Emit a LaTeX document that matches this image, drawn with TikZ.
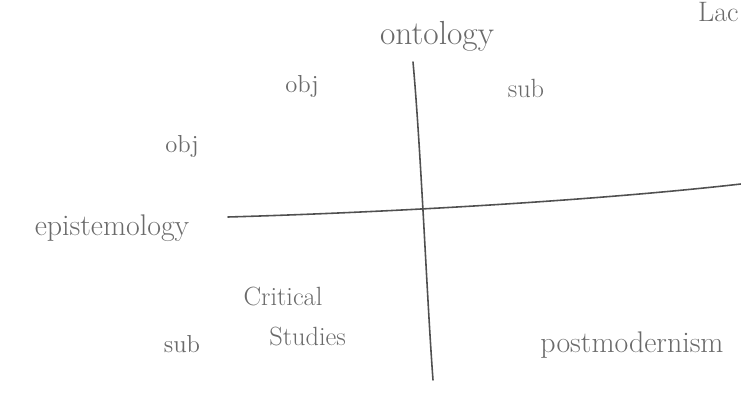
\documentclass[tikz,border=0pt]{standalone}
\usepackage{tikz}
\usetikzlibrary{positioning}
\definecolor{pencil}{HTML}{6A6A6A}
\definecolor{pencilDark}{HTML}{505050}

\begin{document}
\begin{tikzpicture}[x=0.02cm, y=-0.02cm,
      hand/.style={text=pencil, inner sep=0pt, font=\fontsize{17}{19}\selectfont},
      axis/.style={draw=pencilDark, line width=0.9pt, line cap=round}]
    \useasboundingbox (0,0) rectangle (741,395);
    % axis labels
    \node[hand, font=\fontsize{19}{21}\selectfont] (ont) at (437,36) {ontology};
    \node[hand] (epi) at (112,228) {epistemology};
    % column and row labels
    \node[hand, font=\fontsize{14}{16}\selectfont] (colobj) at (302,86) {obj};
    \node[hand, font=\fontsize{15}{17}\selectfont] (colsub) at (526,88) {sub};
    \node[hand, font=\fontsize{14}{16}\selectfont] (rowobj) at (182,146) {obj};
    \node[hand, font=\fontsize{14}{16}\selectfont] (rowsub) at (182,344) {sub};
    % quadrant entries
    \node[hand, font=\fontsize{15}{17}\selectfont] (crit) at (283,296) {Critical};
    \node[hand, font=\fontsize{15}{17}\selectfont, below=12pt of crit.south, anchor=north, xshift=14] (stud) {Studies};
    \node[hand] (pomo) at (632,345) {postmodernism};
    % word in the top right corner
    \node[hand, font=\fontsize{16}{18}\selectfont, anchor=north east] (lac) at (739,2) {Lac};
    % the two axes
    \coordinate (vtop) at (413,62);
    \coordinate (vbot) at (433,380);
    \coordinate (hleft) at (228,217);
    \coordinate (hright) at (741,184);
    \draw[axis] (vtop) .. controls (421,150) and (427,300) .. (vbot);
    \draw[axis] (hleft) .. controls (400,212) and (600,200) .. (hright);
  \end{tikzpicture}
\end{document}
